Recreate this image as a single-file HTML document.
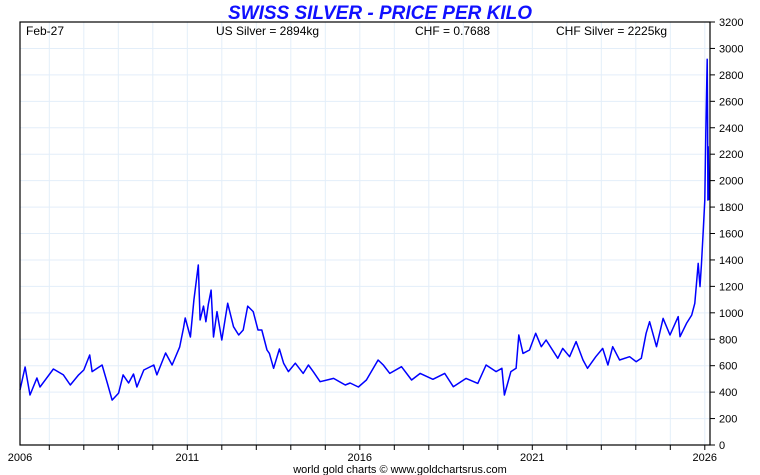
<!DOCTYPE html>
<html><head><meta charset="utf-8"><style>
body{margin:0;background:#fff;}
svg{display:block;font-family:"Liberation Sans",sans-serif;}
</style></head><body>
<svg id="chart" width="760" height="475">
<text x="380" y="19" text-anchor="middle" font-size="19" font-weight="bold" font-style="italic" fill="#1010ff">SWISS SILVER - PRICE PER KILO</text>
<g id="grid"></g>
<g id="series"></g>
<rect x="20" y="22" width="690" height="423" fill="none" stroke="#000" stroke-width="1.2"/>
<text x="26" y="35" font-size="12">Feb-27</text>
<text x="216" y="35" font-size="12">US Silver = 2894kg</text>
<text x="415" y="35" font-size="12">CHF = 0.7688</text>
<text x="556" y="35" font-size="12">CHF Silver = 2225kg</text>
<g id="axes"></g>
<text x="400" y="473" text-anchor="middle" font-size="11" fill="#000">world gold charts © www.goldchartsrus.com</text>
</svg>
<script>
const dates=[2006.15,2006.30,2006.44,2006.64,2006.73,2007.12,2007.41,2007.61,2007.85,2008.0,2008.17,2008.24,2008.53,2008.68,2008.82,2009.01,2009.14,2009.30,2009.44,2009.54,2009.74,2010.03,2010.12,2010.37,2010.56,2010.78,2010.89,2010.94,2011.09,2011.19,2011.32,2011.37,2011.47,2011.54,2011.61,2011.69,2011.76,2011.86,2012.00,2012.17,2012.34,2012.49,2012.62,2012.75,2012.91,2013.05,2013.16,2013.31,2013.38,2013.50,2013.67,2013.79,2013.93,2014.13,2014.36,2014.51,2014.65,2014.85,2015.24,2015.58,2015.72,2015.96,2016.19,2016.53,2016.68,2016.87,2017.21,2017.50,2017.75,2018.12,2018.46,2018.71,2019.08,2019.42,2019.66,2019.95,2020.12,2020.19,2020.38,2020.53,2020.61,2020.73,2020.92,2021.10,2021.26,2021.40,2021.74,2021.88,2022.08,2022.27,2022.47,2022.60,2022.84,2023.04,2023.19,2023.33,2023.53,2023.82,2024.01,2024.16,2024.30,2024.40,2024.60,2024.79,2024.99,2025.23,2025.28,2025.47,2025.62,2025.71,2025.81,2025.86,2025.90,2025.95,2026.00,2026.03,2026.07,2026.08,2026.09,2026.10,2026.13];
const values=[416,590,378,507,439,575,530,454,530,567,681,555,605,469,340,393,530,469,537,439,567,605,530,696,605,742,885,961,817,1097,1362,946,1051,933,1063,1172,817,1009,794,1072,895,832,870,1051,1009,870,870,719,693,580,726,619,555,619,542,605,555,479,504,454,469,439,492,643,605,542,592,492,542,497,542,441,504,466,605,555,580,378,555,580,832,693,719,845,744,794,656,731,668,782,643,580,668,731,605,744,643,668,630,656,845,933,744,958,832,971,819,920,983,1072,1374,1198,1362,1601,1853,2358,2918,2459,1853,2257,1853];
const yTicks=[0,200,400,600,800,1000,1200,1400,1600,1800,2000,2200,2400,2600,2800,3000,3200];
const xTickYears=[2007,2008,2009,2010,2011,2012,2013,2014,2015,2016,2017,2018,2019,2020,2021,2022,2023,2024,2025,2026];
const xLabels=[[2006,"2006"],[2011,"2011"],[2016,"2016"],[2021,"2021"],[2026,"2026"]];
const NS="http://www.w3.org/2000/svg";
const X=t=>14.8+(t-2006)*34.5;
const Y=v=>445-v*423/3200;
function mk(tag,attrs,parent){const e=document.createElementNS(NS,tag);for(const k in attrs)e.setAttribute(k,attrs[k]);parent.appendChild(e);return e;}
const grid=document.getElementById('grid'),axes=document.getElementById('axes'),series=document.getElementById('series');
yTicks.forEach(v=>{
  if(v>0&&v<3200){const l=mk('line',{x1:20,x2:710,y1:Y(v),y2:Y(v),stroke:'#e3eef9','stroke-width':1},grid);
  
  }
  const tk=mk('line',{x1:710,x2:715,y1:Y(v),y2:Y(v),stroke:'#000'},axes);
  
  
  const tx=mk('text',{x:719,y:Y(v)+4,'font-size':11},axes);tx.textContent=v;
  
  
});
xTickYears.forEach(t=>{
  const x=X(t);
  if(x<710){const l=mk('line',{x1:x,x2:x,y1:22,y2:445,stroke:'#e3eef9','stroke-width':1},grid);
  
  }
  const tk=mk('line',{x1:x,x2:x,y1:445,y2:450,stroke:'#000'},axes);
  
  
});
xLabels.forEach(([t,s])=>{
  const x=Math.max(20,X(t));
  const tx=mk('text',{x:x,y:461,'font-size':11,'text-anchor':'middle'},axes);tx.textContent=s;
  
  
});
const pts=dates.map((t,i)=>X(t).toFixed(1)+','+Y(values[i]).toFixed(1)).join(' ');
const pl=mk('polyline',{points:pts,fill:'none',stroke:'#0000ff','stroke-width':1.5,'stroke-linejoin':'round'},series);


</script>
</body></html>
